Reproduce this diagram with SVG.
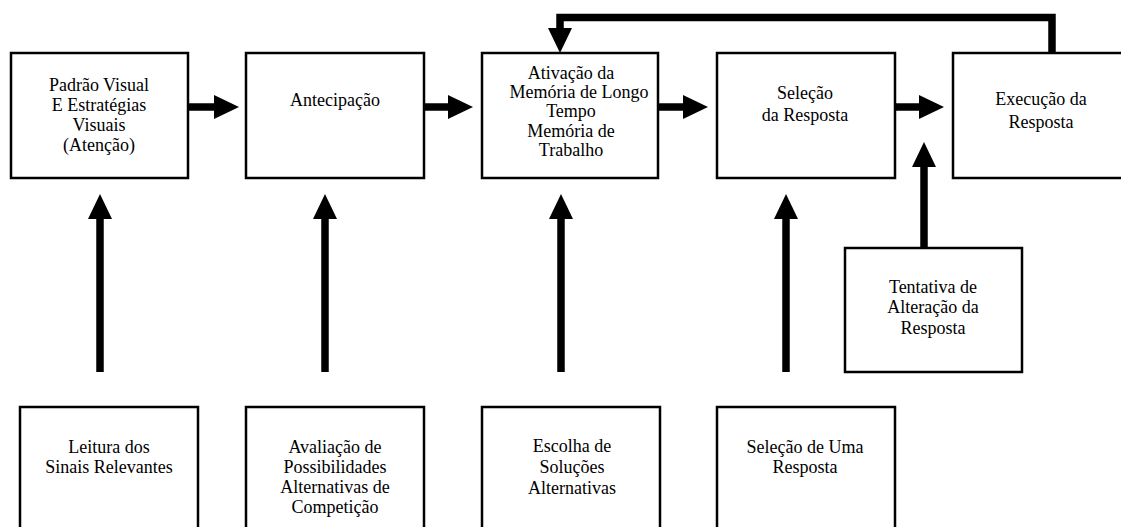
<svg xmlns="http://www.w3.org/2000/svg" width="1121" height="527" viewBox="0 0 1121 527">
<style>
.box{fill:#fff;stroke:#000;stroke-width:2.5}
.t{font-family:'Liberation Serif','DejaVu Serif','Times New Roman',serif;font-size:18px;fill:#000;text-anchor:middle}
.c{fill:none;stroke:#000;stroke-width:7.5}
</style>
<defs>
<marker id="ah" markerUnits="userSpaceOnUse" markerWidth="25" markerHeight="24" refX="0" refY="12" orient="auto">
<path d="M0,0 L25,12 L0,24 z" fill="#000"/>
</marker>
</defs>
<rect width="1121" height="527" fill="#fff"/>
<g id="n1"><rect class="box" x="11" y="53" width="177" height="125"/>
<text class="t" x="99" y="91">Padrão Visual</text><text class="t" x="99" y="111">E Estratégias</text><text class="t" x="99" y="131">Visuais</text><text class="t" x="99" y="151">(Atenção)</text></g>
<g id="n2"><rect class="box" x="246" y="53" width="178" height="125"/>
<text class="t" x="335" y="106">Antecipação</text></g>
<g id="n3"><rect class="box" x="482" y="53" width="176" height="125"/>
<text class="t" x="571" y="79">Ativação da</text><text class="t" x="579" y="98">Memória de Longo</text><text class="t" x="571" y="117">Tempo</text><text class="t" x="571" y="137">Memória de</text><text class="t" x="571" y="156">Trabalho</text></g>
<g id="n4"><rect class="box" x="717" y="53" width="178" height="125"/>
<text class="t" x="805" y="99">Seleção</text><text class="t" x="805" y="121">da Resposta</text></g>
<g id="n5"><rect class="box" x="953" y="53" width="200" height="125"/>
<text class="t" x="1041" y="105">Execução da</text><text class="t" x="1041" y="128">Resposta</text></g>
<g id="n6"><rect class="box" x="845" y="248" width="177" height="124"/>
<text class="t" x="933" y="293">Tentativa de</text><text class="t" x="933" y="313">Alteração da</text><text class="t" x="933" y="334">Resposta</text></g>
<g id="n7"><rect class="box" x="20" y="407" width="178" height="140"/>
<text class="t" x="109" y="453">Leitura dos</text><text class="t" x="109" y="473">Sinais Relevantes</text></g>
<g id="n8"><rect class="box" x="246" y="407" width="178" height="140"/>
<text class="t" x="335" y="453">Avaliação de</text><text class="t" x="335" y="473">Possibilidades</text><text class="t" x="335" y="493">Alternativas de</text><text class="t" x="335" y="513">Competição</text></g>
<g id="n9"><rect class="box" x="482" y="407" width="178" height="140"/>
<text class="t" x="572" y="452">Escolha de</text><text class="t" x="572" y="473">Soluções</text><text class="t" x="572" y="494">Alternativas</text></g>
<g id="n10"><rect class="box" x="717" y="407" width="178" height="140"/>
<text class="t" x="805" y="453">Seleção de Uma</text><text class="t" x="805" y="473">Resposta</text></g>
<g id="connectors">
<line class="c" x1="188" y1="107" x2="214" y2="107" marker-end="url(#ah)"/>
<line class="c" x1="424" y1="107" x2="448" y2="107" marker-end="url(#ah)"/>
<line class="c" x1="658" y1="107" x2="683" y2="107" marker-end="url(#ah)"/>
<line class="c" x1="895" y1="107" x2="919" y2="107" marker-end="url(#ah)"/>
<line class="c" x1="100" y1="372" x2="100" y2="219" marker-end="url(#ah)"/>
<line class="c" x1="325" y1="372" x2="325" y2="219" marker-end="url(#ah)"/>
<line class="c" x1="561" y1="372" x2="561" y2="219" marker-end="url(#ah)"/>
<line class="c" x1="786" y1="372" x2="786" y2="219" marker-end="url(#ah)"/>
<line class="c" x1="924" y1="248" x2="924" y2="167" marker-end="url(#ah)"/>
<path class="c" d="M1052,53 V17.5 H560 V28" stroke-width="8.5" stroke-linejoin="miter" marker-end="url(#ah)"/>
</g>
</svg>
